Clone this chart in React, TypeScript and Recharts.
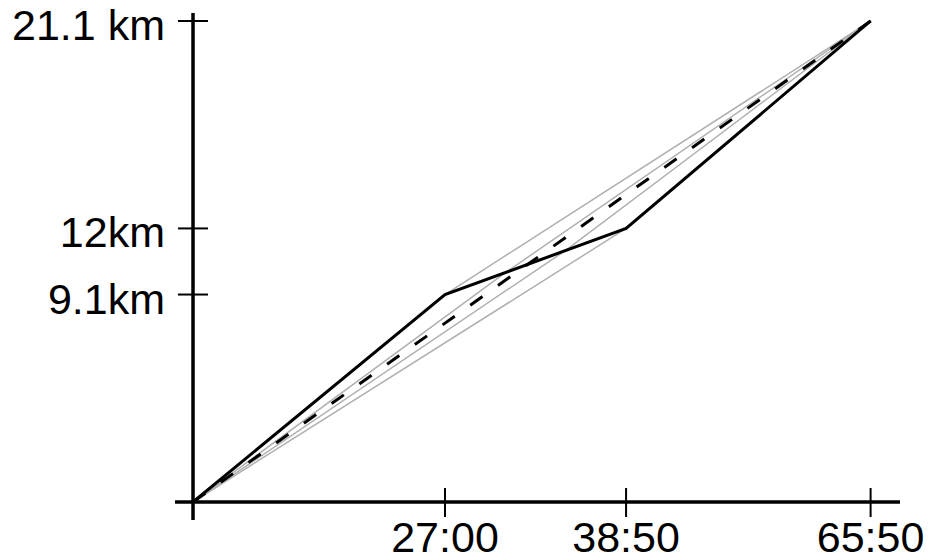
import { LineChart, Line, XAxis, YAxis, ReferenceLine } from 'recharts';

// splits of the race; the time axis is drawn schematically, so each split
// has a position along it (the 27:00 split sits at 27) plus its clock label
const splitLabels = ['27:00', '38:50', '65:50'];
const splitPos = [27, 46.4, 72.6];
const splitKm = [9.1, 12, 21.1];
const kmLabels = ['9.1km', '12km', '21.1 km'];

// gray fan: alternative intermediate splits between the 27:00 and 38:50 points
const altPos = [27, 33.5, 39.9, 46.4];
const altKm = [9.1, 10.07, 11.03, 12];

const start = { x: 0, km: 0 };
const finish = { x: splitPos[2], km: splitKm[2] };
const actual = [start, ...splitPos.map((x, i) => ({ x, km: splitKm[i] }))];
const evenPace = [start, finish];
const fans = altPos.map((x, i) => [start, { x, km: altKm[i] }, finish]);

const font = "'Liberation Sans', Arial, Helvetica, sans-serif";

function XTick({ x, y, payload }: any) {
  const i = splitPos.indexOf(payload.value);
  return (
    <g>
      <line x1={x} x2={x} y1={y - 32} y2={y - 3} stroke="#000" strokeWidth={2} />
      <text x={x} y={y + 32} textAnchor="middle" fontFamily={font} fontSize={43} fill="#000">
        {splitLabels[i]}
      </text>
    </g>
  );
}

function YTick({ x, y, payload }: any) {
  const i = splitKm.indexOf(payload.value);
  return (
    <g>
      <line x1={x + 3} x2={x + 33} y1={y} y2={y} stroke="#000" strokeWidth={2} />
      <text x={x - 10} y={y + 19} textAnchor="end" fontFamily={font} fontSize={43} fill="#000">
        {kmLabels[i]}
      </text>
    </g>
  );
}

export default function App() {
  return (
    <div style={{ position: 'absolute', left: 0, top: 0, background: '#fff' }}>
      <LineChart width={929} height={560} margin={{ top: 13, right: 29, bottom: 0, left: 0 }}>
        <XAxis
          type="number"
          dataKey="x"
          domain={[-1.93, 75.75]}
          allowDataOverflow
          ticks={splitPos}
          interval={0}
          axisLine={false}
          tickLine={false}
          tickSize={0}
          tickMargin={0}
          height={40}
          tick={(p: any) => <XTick {...p} />}
        />
        <YAxis
          type="number"
          dataKey="km"
          domain={[-0.79, 21.45]}
          allowDataOverflow
          ticks={splitKm}
          interval={0}
          axisLine={false}
          tickLine={false}
          tickSize={0}
          tickMargin={0}
          width={175}
          tick={(p: any) => <YTick {...p} />}
        />
        {fans.map((d, i) => (
          <Line
            key={i}
            data={d}
            dataKey="km"
            stroke="#b0b0b0"
            strokeWidth={1.5}
            dot={false}
            activeDot={false}
            isAnimationActive={false}
          />
        ))}
        <Line
          data={evenPace}
          dataKey="km"
          stroke="#000"
          strokeWidth={3}
          strokeDasharray="15 19"
          dot={false}
          activeDot={false}
          isAnimationActive={false}
        />
        <Line
          data={actual}
          dataKey="km"
          stroke="#000"
          strokeWidth={3}
          dot={false}
          activeDot={false}
          isAnimationActive={false}
        />
        <ReferenceLine x={0} stroke="#000" strokeWidth={3.5} />
        <ReferenceLine y={0} stroke="#000" strokeWidth={3.5} />
      </LineChart>
    </div>
  );
}
